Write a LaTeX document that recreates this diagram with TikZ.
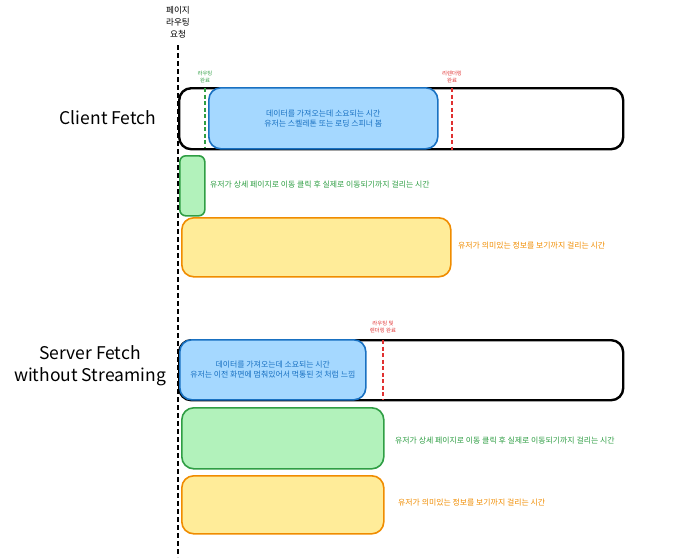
\documentclass[tikz,border=0pt]{standalone}
\usepackage{fontspec}
\setmainfont{Noto Sans CJK KR}

\definecolor{bluefill}{HTML}{A5D8FF}
\definecolor{bluedraw}{HTML}{1971C2}
\definecolor{greenfill}{HTML}{B2F2BB}
\definecolor{greendraw}{HTML}{2F9E44}
\definecolor{orangefill}{HTML}{FFEC99}
\definecolor{orangedraw}{HTML}{F08C00}
\definecolor{reddraw}{HTML}{E03131}

\begin{document}
\begin{tikzpicture}[x=1pt,y=-1pt,
	box/.style={rectangle, rounded corners=12pt, anchor=north west, inner sep=0pt},
	timeline/.style={box, draw=black, line width=2.4pt, fill=white},
	fetchbox/.style={box, draw=bluedraw, fill=bluefill, line width=1.6pt, align=center, text=bluedraw, font=\fontsize{7.9}{10}\selectfont},
	navbox/.style={box, draw=greendraw, fill=greenfill, line width=1.6pt},
	seebox/.style={box, draw=orangedraw, fill=orangefill, line width=1.6pt},
	note/.style={anchor=west, inner sep=0pt, font=\fontsize{7.9}{9}\selectfont},
	donelabel/.style={align=center, inner sep=0pt, font=\fontsize{5.4}{7}\selectfont},
	title/.style={align=center, inner sep=0pt, font=\fontsize{17.5}{22}\selectfont}]
	\useasboundingbox (0,0) rectangle (700,557);

	% page routing request
	\node[align=center, inner sep=0pt, font=\fontsize{8.6}{12}\selectfont] (request) at (178,22) {페이지\\라우팅\\요청};
	\coordinate (axistop) at (178,45);
	\coordinate (axisbottom) at (178,557);
	\draw[line width=1.8pt, dash pattern=on 5pt off 3pt] (axistop) -- (axisbottom);

	% client fetch
	\node[title] (client) at (108,118) {Client Fetch};
	\node[timeline, minimum width=444pt, minimum height=61pt] (clientline) at (178,87) {};
	\node[fetchbox, minimum width=229pt, minimum height=61pt] (clientdata) at (208,87) {데이터를 가져오는데 소요되는 시간\\유저는 스켈레톤 또는 로딩 스피너 봄};
	\node[donelabel, text=greendraw] (routedone) at (205,77) {라우팅\\완료};
	\coordinate (routetop) at (205,88);
	\coordinate (routebottom) at (205,148);
	\draw[greendraw, line width=1.6pt, dash pattern=on 4pt off 2.5pt] (routetop) -- (routebottom);
	\node[donelabel, text=reddraw] (renderdone) at (452,77) {리렌더링\\완료};
	\coordinate (rendertop) at (452,88);
	\coordinate (renderbottom) at (452,150);
	\draw[reddraw, line width=1.6pt, dash pattern=on 4pt off 2.5pt] (rendertop) -- (renderbottom);
	\node[navbox, rounded corners=6pt, minimum width=25pt, minimum height=60pt] (clientnav) at (179,155) {};
	\node[note, text=greendraw] (clientnavtext) at (210,185) {유저가 상세 페이지로 이동 클릭 후 실제로 이동되기까지 걸리는 시간};
	\node[seebox, minimum width=269pt, minimum height=59pt] (clientsee) at (181,217) {};
	\node[note, text=orangedraw] (clientseetext) at (458,246) {유저가 의미있는 정보를 보기까지 걸리는 시간};

	% server fetch
	\node[title] (server) at (90,366) {Server Fetch\\without Streaming};
	\node[timeline, minimum width=444pt, minimum height=60pt] (serverline) at (178,339) {};
	\node[fetchbox, minimum width=186pt, minimum height=60pt] (serverdata) at (179,339) {데이터를 가져오는데 소요되는 시간\\유저는 이전 화면에 멈춰있어서 먹통된 것 처럼 느낌};
	\node[donelabel, text=reddraw] (serverdone) at (383,327) {라우팅 및\\렌더링 완료};
	\coordinate (servertop) at (383,340);
	\coordinate (serverbottom) at (383,400);
	\draw[reddraw, line width=1.6pt, dash pattern=on 4pt off 2.5pt] (servertop) -- (serverbottom);
	\node[navbox, minimum width=202pt, minimum height=61pt] (servernav) at (181,407) {};
	\node[note, text=greendraw] (servernavtext) at (395,441) {유저가 상세 페이지로 이동 클릭 후 실제로 이동되기까지 걸리는 시간};
	\node[seebox, minimum width=202pt, minimum height=58pt] (serversee) at (181,475) {};
	\node[note, text=orangedraw] (serverseetext) at (398,503) {유저가 의미있는 정보를 보기까지 걸리는 시간};
\end{tikzpicture}
\end{document}
